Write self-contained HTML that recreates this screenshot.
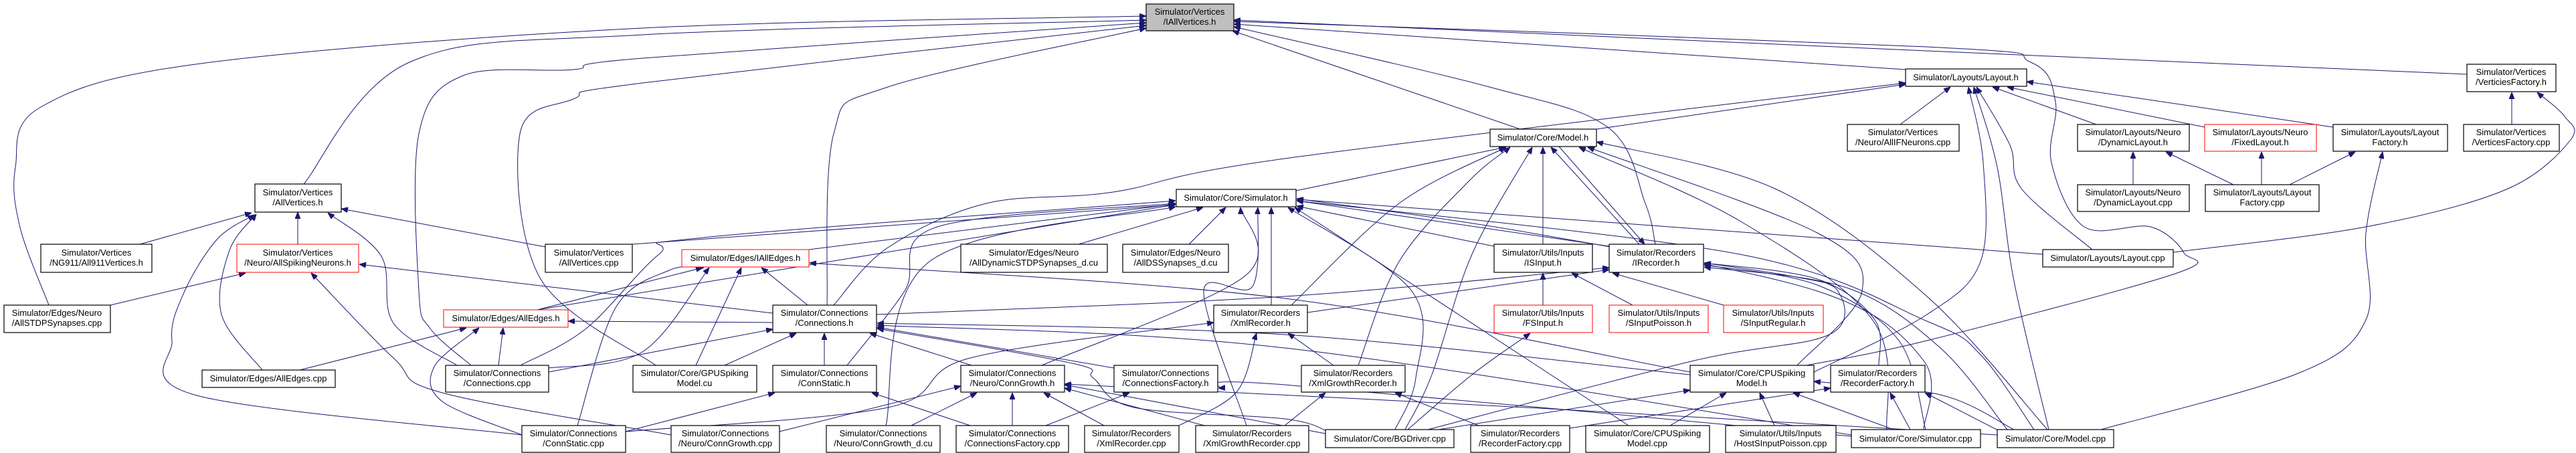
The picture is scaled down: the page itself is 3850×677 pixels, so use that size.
<!DOCTYPE html>
<html><head><meta charset="utf-8"><style>
html,body{margin:0;padding:0;background:#fff;}
svg{display:block;}
text{font-family:"Liberation Sans",Arial,sans-serif;font-size:13px;fill:#000;text-anchor:middle;}
.n{fill:#fff;stroke:#000;stroke-width:1.2;}
.r{fill:#fff;stroke:#ff0000;stroke-width:1;}
.g{fill:#bfbfbf;stroke:#000;stroke-width:1.2;}
</style></head><body>
<svg id="s" width="3850" height="677" viewBox="0 0 3850 677" xmlns="http://www.w3.org/2000/svg">
<defs><marker id="a" markerWidth="10" markerHeight="8" refX="10" refY="4" orient="auto" markerUnits="userSpaceOnUse"><path d="M0,0 L10,4 L0,8 z" fill="#191970" stroke="#191970"/></marker></defs>
<g id="edges" fill="none" stroke="#191970" stroke-width="1"></g>
<g id="nodes">
<rect class="g" x="1713" y="6" width="131" height="40"/><text x="1778" y="22">Simulator/Vertices</text><text x="1778" y="37">/IAllVertices.h</text>
<rect class="n" x="381" y="275" width="129" height="42"/><text x="445" y="292">Simulator/Vertices</text><text x="445" y="307">/AllVertices.h</text>
<rect class="n" x="61" y="365" width="166" height="42"/><text x="144" y="382">Simulator/Vertices</text><text x="144" y="397">/NG911/All911Vertices.h</text>
<rect class="r" x="354" y="365" width="182" height="42"/><text x="445" y="382">Simulator/Vertices</text><text x="445" y="397">/Neuro/AllSpikingNeurons.h</text>
<rect class="n" x="815" y="365" width="130" height="42"/><text x="880" y="382">Simulator/Vertices</text><text x="880" y="397">/AllVertices.cpp</text>
<rect class="n" x="6" y="456" width="159" height="41"/><text x="85" y="472">Simulator/Edges/Neuro</text><text x="85" y="487">/AllSTDPSynapses.cpp</text>
<rect class="r" x="663" y="463" width="186" height="26"/><text x="756" y="480">Simulator/Edges/AllEdges.h</text>
<rect class="n" x="302" y="553" width="199" height="26"/><text x="401" y="570">Simulator/Edges/AllEdges.cpp</text>
<rect class="n" x="666" y="546" width="154" height="40"/><text x="743" y="562">Simulator/Connections</text><text x="743" y="577">/Connections.cpp</text>
<rect class="n" x="780" y="636" width="155" height="40"/><text x="857" y="652">Simulator/Connections</text><text x="857" y="667">/ConnStatic.cpp</text>
<rect class="n" x="1758" y="283" width="179" height="26"/><text x="1847" y="300">Simulator/Core/Simulator.h</text>
<rect class="r" x="1019" y="373" width="190" height="26"/><text x="1114" y="390">Simulator/Edges/IAllEdges.h</text>
<rect class="n" x="1436" y="365" width="219" height="42"/><text x="1545" y="382">Simulator/Edges/Neuro</text><text x="1545" y="397">/AllDynamicSTDPSynapses_d.cu</text>
<rect class="n" x="1678" y="365" width="158" height="42"/><text x="1757" y="382">Simulator/Edges/Neuro</text><text x="1757" y="397">/AllDSSynapses_d.cu</text>
<rect class="n" x="1155" y="456" width="155" height="41"/><text x="1232" y="472">Simulator/Connections</text><text x="1232" y="487">/Connections.h</text>
<rect class="n" x="1814" y="456" width="140" height="41"/><text x="1884" y="472">Simulator/Recorders</text><text x="1884" y="487">/XmlRecorder.h</text>
<rect class="n" x="946" y="546" width="185" height="40"/><text x="1038" y="562">Simulator/Core/GPUSpiking</text><text x="1038" y="577">Model.cu</text>
<rect class="n" x="1155" y="546" width="155" height="40"/><text x="1232" y="562">Simulator/Connections</text><text x="1232" y="577">/ConnStatic.h</text>
<rect class="n" x="1436" y="546" width="155" height="40"/><text x="1513" y="562">Simulator/Connections</text><text x="1513" y="577">/Neuro/ConnGrowth.h</text>
<rect class="n" x="1665" y="546" width="155" height="40"/><text x="1742" y="562">Simulator/Connections</text><text x="1742" y="577">/ConnectionsFactory.h</text>
<rect class="n" x="1003" y="636" width="162" height="40"/><text x="1084" y="652">Simulator/Connections</text><text x="1084" y="667">/Neuro/ConnGrowth.cpp</text>
<rect class="n" x="1235" y="636" width="170" height="40"/><text x="1320" y="652">Simulator/Connections</text><text x="1320" y="667">/Neuro/ConnGrowth_d.cu</text>
<rect class="n" x="1429" y="636" width="168" height="40"/><text x="1513" y="652">Simulator/Connections</text><text x="1513" y="667">/ConnectionsFactory.cpp</text>
<rect class="n" x="1621" y="636" width="141" height="40"/><text x="1691" y="652">Simulator/Recorders</text><text x="1691" y="667">/XmlRecorder.cpp</text>
<rect class="n" x="1787" y="636" width="169" height="40"/><text x="1871" y="652">Simulator/Recorders</text><text x="1871" y="667">/XmlGrowthRecorder.cpp</text>
<rect class="n" x="2227" y="193" width="159" height="26"/><text x="2306" y="210">Simulator/Core/Model.h</text>
<rect class="n" x="2233" y="365" width="147" height="42"/><text x="2306" y="382">Simulator/Utils/Inputs</text><text x="2306" y="397">/ISInput.h</text>
<rect class="n" x="2405" y="365" width="141" height="42"/><text x="2475" y="382">Simulator/Recorders</text><text x="2475" y="397">/IRecorder.h</text>
<rect class="r" x="2233" y="456" width="147" height="41"/><text x="2306" y="472">Simulator/Utils/Inputs</text><text x="2306" y="487">/FSInput.h</text>
<rect class="r" x="2405" y="456" width="148" height="41"/><text x="2479" y="472">Simulator/Utils/Inputs</text><text x="2479" y="487">/SInputPoisson.h</text>
<rect class="r" x="2576" y="456" width="149" height="41"/><text x="2650" y="472">Simulator/Utils/Inputs</text><text x="2650" y="487">/SInputRegular.h</text>
<rect class="n" x="1945" y="546" width="155" height="40"/><text x="2022" y="562">Simulator/Recorders</text><text x="2022" y="577">/XmlGrowthRecorder.h</text>
<rect class="n" x="2526" y="546" width="185" height="40"/><text x="2618" y="562">Simulator/Core/CPUSpiking</text><text x="2618" y="577">Model.h</text>
<rect class="n" x="2736" y="546" width="141" height="40"/><text x="2806" y="562">Simulator/Recorders</text><text x="2806" y="577">/RecorderFactory.h</text>
<rect class="n" x="1981" y="642" width="192" height="27"/><text x="2077" y="660">Simulator/Core/BGDriver.cpp</text>
<rect class="n" x="2198" y="636" width="148" height="40"/><text x="2272" y="652">Simulator/Recorders</text><text x="2272" y="667">/RecorderFactory.cpp</text>
<rect class="n" x="2370" y="636" width="185" height="40"/><text x="2462" y="652">Simulator/Core/CPUSpiking</text><text x="2462" y="667">Model.cpp</text>
<rect class="n" x="2579" y="636" width="165" height="40"/><text x="2661" y="652">Simulator/Utils/Inputs</text><text x="2661" y="667">/HostSInputPoisson.cpp</text>
<rect class="n" x="2767" y="642" width="193" height="27"/><text x="2863" y="660">Simulator/Core/Simulator.cpp</text>
<rect class="n" x="2761" y="186" width="167" height="40"/><text x="2844" y="202">Simulator/Vertices</text><text x="2844" y="217">/Neuro/AllIFNeurons.cpp</text>
<rect class="n" x="2848" y="103" width="181" height="26"/><text x="2938" y="120">Simulator/Layouts/Layout.h</text>
<rect class="n" x="3687" y="96" width="133" height="41"/><text x="3753" y="112">Simulator/Vertices</text><text x="3753" y="127">/VerticiesFactory.h</text>
<rect class="n" x="3105" y="186" width="167" height="40"/><text x="3188" y="202">Simulator/Layouts/Neuro</text><text x="3188" y="217">/DynamicLayout.h</text>
<rect class="r" x="3295" y="186" width="167" height="40"/><text x="3378" y="202">Simulator/Layouts/Neuro</text><text x="3378" y="217">/FixedLayout.h</text>
<rect class="n" x="3487" y="186" width="171" height="40"/><text x="3572" y="202">Simulator/Layouts/Layout</text><text x="3572" y="217">Factory.h</text>
<rect class="n" x="3682" y="186" width="143" height="40"/><text x="3753" y="202">Simulator/Vertices</text><text x="3753" y="217">/VerticesFactory.cpp</text>
<rect class="n" x="3105" y="276" width="167" height="40"/><text x="3188" y="292">Simulator/Layouts/Neuro</text><text x="3188" y="307">/DynamicLayout.cpp</text>
<rect class="n" x="3296" y="276" width="170" height="40"/><text x="3381" y="292">Simulator/Layouts/Layout</text><text x="3381" y="307">Factory.cpp</text>
<rect class="n" x="3053" y="373" width="195" height="26"/><text x="3150" y="390">Simulator/Layouts/Layout.cpp</text>
<rect class="n" x="2985" y="642" width="174" height="27"/><text x="3072" y="660">Simulator/Core/Model.cpp</text>
</g>
</svg>
<script>
var E=[
[[454,275],[612,93],[960,52],[1713,30]],
[[73,456],[30,340],[23,250],[61,160],[300,95],[960,42],[1713,24]],
[[704,546],[643,491],[626,435],[626,200],[692,113],[857,104],[960,87],[1713,34]],
[[980,546],[808,417],[777,200],[857,148],[960,124],[1713,38]],
[[1236,456],[1246,200],[1327,130],[1713,42]],
[[2272,193],[1842,46]],
[[2474,365],[2459,304],[2404,191],[2226,130],[1844,40]],
[[2848,104],[1844,36]],
[[3687,111],[2880,76],[1844,30]],
[[2700,546],[2880,509],[3251,409],[3264,378],[3214,339],[3115,339],[3066,243],[3072,152],[3035,93],[2880,70],[1844,32]],
[[209,365],[376,318]],
[[445,365],[445,317]],
[[815,369],[510,312]],
[[392,553],[331,470],[343,374],[383,320]],
[[780,650],[294,591],[257,509],[276,435],[325,357],[380,321]],
[[683,546],[588,483],[570,383],[490,318]],
[[165,456],[367,408]],
[[1003,650],[661,587],[588,535],[465,408]],
[[1155,468],[537,395]],
[[448,553],[697,490]],
[[745,546],[752,490]],
[[780,650],[661,600],[649,548],[716,490]],
[[863,636],[920,460],[1000,404],[1052,400]],
[[1155,482],[849,480]],
[[803,463],[1050,400]],
[[803,463],[1756,306]],
[[1040,546],[1108,400]],
[[1207,456],[1138,400]],
[[2526,556],[1920,446],[1210,393]],
[[820,550],[960,526],[1060,400]],
[[1209,373],[1757,305]],
[[1612,365],[1798,310]],
[[1777,365],[1832,310]],
[[1266,546],[1352,435],[1401,339],[1757,304]],
[[1324,636],[1389,391],[1757,309]],
[[1557,546],[1860,413],[1854,310]],
[[1863,636],[1799,435],[1872,428],[1880,310]],
[[1900,456],[1900,310]],
[[945,365],[1757,306]],
[[778,546],[876,491],[985,380],[1052,355],[1757,300]],
[[2233,368],[1938,308]],
[[2405,368],[1938,300]],
[[3053,380],[1938,298]],
[[2085,642],[2116,565],[2110,435],[1925,310]],
[[2434,636],[1935,310]],
[[2875,642],[2875,539],[2716,435],[2287,348],[1938,297]],
[[3040,642],[2960,530],[2880,480],[2600,380],[1938,300]],
[[1937,285],[2250,220]],
[[2030,546],[2091,391],[2196,270],[2257,220]],
[[1930,456],[2091,304],[2251,220]],
[[2100,642],[2140,560],[2200,380],[2290,220]],
[[2306,365],[2306,220]],
[[2450,365],[2318,220]],
[[2330,219],[2458,365]],
[[2686,546],[2783,435],[2716,348],[2373,220]],
[[3060,642],[2880,443],[2655,283],[2386,212]],
[[2820,642],[2800,480],[2600,330],[2360,220]],
[[1246,456],[1327,370],[1474,304],[1664,287],[1920,237],[2848,124]],
[[2386,193],[2848,126]],
[[2840,186],[2915,130]],
[[3133,186],[2978,130]],
[[3295,190],[3000,130]],
[[3487,190],[3029,122]],
[[3127,373],[3022,283],[3004,217],[2954,130]],
[[2711,556],[2880,470],[2960,391],[2964,243],[2942,130]],
[[3062,642],[3010,420],[2985,250],[2950,130]],
[[3754,186],[3754,138]],
[[3248,377],[3536,339],[3746,283],[3842,209],[3833,174],[3792,138]],
[[3188,276],[3188,227]],
[[3338,276],[3237,227]],
[[3380,276],[3380,227]],
[[3422,276],[3520,227]],
[[3140,642],[3437,557],[3536,478],[3536,348],[3561,227]],
[[2306,456],[2306,408]],
[[2440,456],[2349,408]],
[[2576,456],[2410,408]],
[[2104,642],[2200,560],[2287,498]],
[[1954,467],[2405,403]],
[[1310,470],[1920,443],[2405,400]],
[[2808,546],[2802,478],[2716,417],[2547,393]],
[[2878,642],[2838,509],[2716,426],[2547,396]],
[[3000,642],[2900,520],[2760,430],[2547,399]],
[[2134,642],[2532,539],[2734,500],[2747,435],[2679,413],[2547,393]],
[[820,556],[1155,492]],
[[1083,546],[1190,498]],
[[1232,546],[1232,498]],
[[1452,546],[1300,498]],
[[1665,550],[1311,489]],
[[1985,645],[1920,626],[1695,609],[1634,565],[1603,543],[1311,491]],
[[2526,560],[1920,500],[1311,483]],
[[2767,650],[1920,520],[1311,486]],
[[935,645],[1158,587]],
[[1450,636],[1303,587]],
[[1165,645],[1436,577]],
[[1362,636],[1460,587]],
[[1513,636],[1513,587]],
[[1650,636],[1560,587]],
[[1800,636],[1591,580]],
[[1981,648],[1591,575]],
[[2985,650],[2300,610],[1591,574]],
[[1563,636],[1688,587]],
[[2767,652],[1920,575],[1821,580]],
[[1762,636],[1848,586],[1878,498]],
[[935,645],[1327,609],[1450,535],[1814,482]],
[[1993,546],[1925,498]],
[[1920,636],[1981,587]],
[[2210,636],[2085,587]],
[[2150,642],[2526,583]],
[[2496,636],[2580,587]],
[[2652,636],[2630,587]],
[[2830,642],[2680,587]],
[[2346,640],[2736,580]],
[[2855,642],[2825,587]],
[[2990,645],[2877,587]],
[[3010,642],[2900,590],[2711,570]]
];
function cr(p){var d="M"+p[0][0]+","+p[0][1];if(p.length==2)return d+" L"+p[1][0]+","+p[1][1];
for(var i=0;i<p.length-1;i++){var a=p[i-1]||p[i],b=p[i],c=p[i+1],e=p[i+2]||c;
d+=" C"+(b[0]+(c[0]-a[0])/6).toFixed(1)+","+(b[1]+(c[1]-a[1])/6).toFixed(1)+" "+(c[0]-(e[0]-b[0])/6).toFixed(1)+","+(c[1]-(e[1]-b[1])/6).toFixed(1)+" "+c[0]+","+c[1];}return d;}
var g=document.getElementById("edges"),h="";
for(var i=0;i<E.length;i++)h+='<path d="'+cr(E[i])+'" marker-end="url(#a)"/>';
g.innerHTML=h;
</script>
</body></html>
